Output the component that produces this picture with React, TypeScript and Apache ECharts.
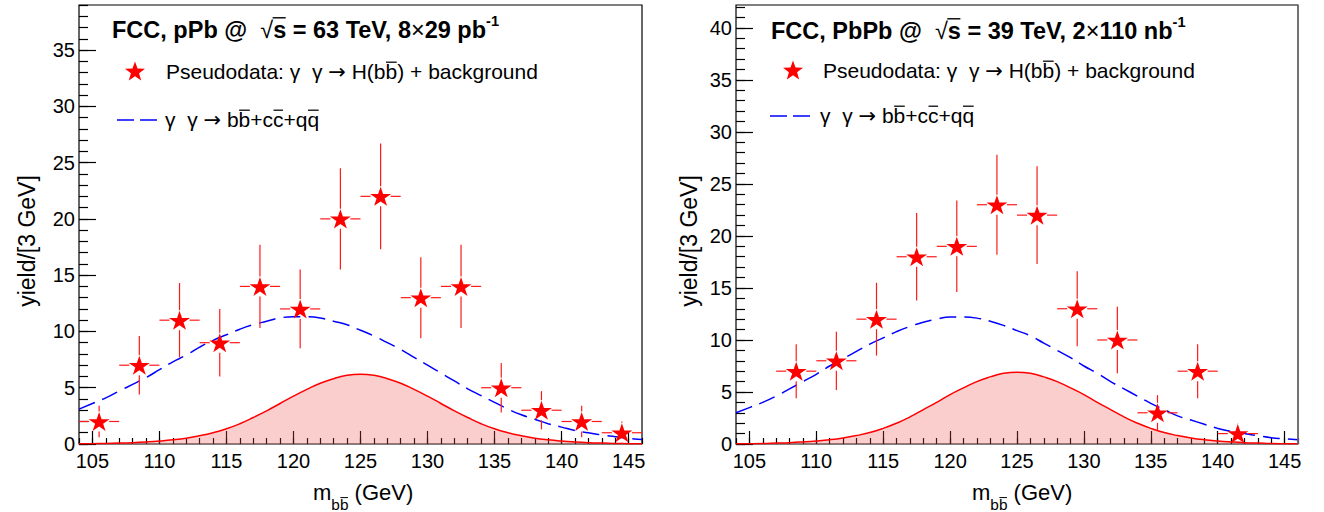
import React, { useEffect, useRef } from "react";
import * as echarts from "echarts";

const FONT = "'Liberation Sans', Arial, Helvetica, sans-serif";
const ARROW_FONT = "'DejaVu Sans', 'Liberation Sans', sans-serif";

// ---------- data ----------
const massGrid = [104, 105, 106, 107, 108, 109, 110, 111, 112, 113, 114, 115, 116, 117, 118, 119, 120, 121, 122, 123, 124, 125, 126, 127, 128, 129, 130, 131, 132, 133, 134, 135, 136, 137, 138, 139, 140, 141, 142, 143, 144, 145, 146];

const pPbBackground = [3.1, 3.6, 4.1, 4.7, 5.3, 5.9, 6.6, 7.3, 7.9, 8.6, 9.2, 9.7, 10.2, 10.6, 10.9, 11.2, 11.3, 11.3, 11.2, 10.9, 10.6, 10.1, 9.6, 9.0, 8.4, 7.7, 7.0, 6.3, 5.6, 4.9, 4.3, 3.7, 3.1, 2.6, 2.2, 1.8, 1.5, 1.2, 1.0, 0.8, 0.65, 0.5, 0.4];
const pPbSignal = [0.02, 0.03, 0.05, 0.08, 0.12, 0.18, 0.26, 0.37, 0.52, 0.73, 1.0, 1.35, 1.8, 2.35, 2.95, 3.6, 4.25, 4.85, 5.4, 5.8, 6.1, 6.2, 6.1, 5.8, 5.4, 4.85, 4.25, 3.6, 2.95, 2.35, 1.8, 1.35, 1.0, 0.73, 0.52, 0.37, 0.26, 0.18, 0.12, 0.08, 0.05, 0.03, 0.02];

const PbPbBackground = [3.0, 3.5, 4.0, 4.6, 5.3, 6.0, 6.7, 7.5, 8.2, 8.9, 9.6, 10.2, 10.8, 11.3, 11.7, 12.0, 12.2, 12.2, 12.1, 11.8, 11.4, 10.9, 10.4, 9.7, 9.0, 8.3, 7.5, 6.8, 6.0, 5.3, 4.6, 3.9, 3.3, 2.7, 2.3, 1.9, 1.5, 1.2, 1.0, 0.8, 0.6, 0.5, 0.4];
const PbPbSignal = [0.02, 0.03, 0.05, 0.09, 0.13, 0.2, 0.29, 0.41, 0.58, 0.81, 1.1, 1.5, 2.0, 2.6, 3.3, 4.0, 4.75, 5.4, 6.0, 6.45, 6.8, 6.9, 6.8, 6.45, 6.0, 5.4, 4.75, 4.0, 3.3, 2.6, 2.0, 1.5, 1.1, 0.81, 0.58, 0.41, 0.29, 0.2, 0.13, 0.09, 0.05, 0.03, 0.02];

const pPbBinCenters = [105.5, 108.5, 111.5, 114.5, 117.5, 120.5, 123.5, 126.5, 129.5, 132.5, 135.5, 138.5, 141.5, 144.5];
const pPbYield = [2, 7, 11, 9, 14, 12, 20, 22, 13, 14, 5, 3, 2, 1];
const pPbYieldErr = [1.4, 2.6, 3.3, 3.0, 3.7, 3.5, 4.5, 4.7, 3.6, 3.7, 2.2, 1.7, 1.4, 1.0];

const PbPbBinCenters = [108.5, 111.5, 114.5, 117.5, 120.5, 123.5, 126.5, 129.5, 132.5, 135.5, 138.5, 141.5];
const PbPbYield = [7, 8, 12, 18, 19, 23, 22, 13, 10, 3, 7, 1];
const PbPbYieldErr = [2.6, 2.8, 3.5, 4.2, 4.4, 4.8, 4.7, 3.6, 3.2, 1.7, 2.6, 1.0];

const binHalfWidth = 1.5;

const xTickLabels = [105, 110, 115, 120, 125, 130, 135, 140, 145];
const pPbYTickLabels = [0, 5, 10, 15, 20, 25, 30, 35];
const PbPbYTickLabels = [0, 5, 10, 15, 20, 25, 30, 35, 40];

const STAR = "path://M50,0 L61.8,36.2 L100,36.2 L69.1,58.8 L80.9,95.1 L50,72.7 L19.1,95.1 L30.9,58.8 L0,36.2 L38.2,36.2 Z";

type Seg = { t: string; rel?: number; bold?: boolean; dy?: number; bar?: boolean; barLevel?: number; barPre?: number; fam?: string };

function richLine(ctx: CanvasRenderingContext2D, segs: Seg[], x0: number, baseline: number, size: number, color = "#000"): any[] {
  const els: any[] = [];
  let x = x0;
  for (const s of segs) {
    const sz = size * (s.rel ?? 1);
    const font = `${s.bold ? "bold " : ""}${sz}px ${s.fam ?? FONT}`;
    ctx.font = font;
    const w = ctx.measureText(s.t).width;
    const bl = baseline + (s.dy ?? 0) * size;
    els.push({
      type: "text", x, y: bl - 0.35 * sz, silent: true,
      style: { text: s.t, font, fill: color, align: "left", verticalAlign: "middle", textAlign: "left", textVerticalAlign: "middle" },
    });
    if (s.bar) {
      const by = bl - (s.barLevel ?? 0.8) * sz;
      els.push({
        type: "line", silent: true,
        shape: { x1: x + 0.5 - (s.barPre ?? 0), y1: by, x2: x + w - 0.5, y2: by },
        style: { stroke: color, lineWidth: Math.max(1, sz * 0.06) },
      });
    }
    x += w;
  }
  return els;
}

function starPoints(cx: number, cy: number, R: number, r: number): number[][] {
  const pts: number[][] = [];
  for (let k = 0; k < 10; k++) {
    const a = -Math.PI / 2 + (k * Math.PI) / 5;
    const rad = k % 2 === 0 ? R : r;
    pts.push([cx + rad * Math.cos(a), cy + rad * Math.sin(a)]);
  }
  return pts;
}

export default function App() {
  const ref = useRef<HTMLDivElement>(null);
  useEffect(() => {
    if (!ref.current) return;
    const chart = echarts.init(ref.current, undefined, { renderer: "svg" });
    const canvas = document.createElement("canvas");
    const ctx = canvas.getContext("2d") as CanvasRenderingContext2D;

    const xMinor: number[] = [];
    for (let v = 104; v <= 146; v++) xMinor.push(v);

    const panels = [
      {
        grid: { left: 79, top: 5, width: 563, height: 439 },
        ymax: 39, yTicks: pPbYTickLabels,
        centers: pPbBinCenters, yields: pPbYield, errs: pPbYieldErr,
        bkg: pPbBackground, sig: pPbSignal,
      },
      {
        grid: { left: 736, top: 5, width: 562, height: 439 },
        ymax: 42.2, yTicks: PbPbYTickLabels,
        centers: PbPbBinCenters, yields: PbPbYield, errs: PbPbYieldErr,
        bkg: PbPbBackground, sig: PbPbSignal,
      },
    ];

    const tickLine = { color: "#000", width: 1.2 };
    const labelStyle = { fontSize: 20, fontFamily: FONT, color: "#000" };

    const xAxis: any[] = [];
    const yAxis: any[] = [];
    panels.forEach((p, i) => {
      const yMinor: number[] = [];
      for (let v = 0; v <= Math.floor(p.ymax); v++) yMinor.push(v);
      xAxis.push(
        {
          type: "value", gridIndex: i, position: "bottom", min: 104, max: 146,
          axisLine: { show: false, onZero: false }, splitLine: { show: false },
          axisTick: { show: true, inside: true, length: 13, customValues: xTickLabels, lineStyle: tickLine },
          axisLabel: { show: true, customValues: xTickLabels, margin: 7, ...labelStyle },
        },
        {
          type: "value", gridIndex: i, position: "bottom", min: 104, max: 146,
          axisLine: { show: false, onZero: false }, splitLine: { show: false },
          axisTick: { show: true, inside: true, length: 6, customValues: xMinor, lineStyle: tickLine },
          axisLabel: { show: false },
        }
      );
      yAxis.push(
        {
          type: "value", gridIndex: i, position: "left", min: 0, max: p.ymax,
          axisLine: { show: false, onZero: false }, splitLine: { show: false },
          axisTick: { show: true, inside: true, length: 17, customValues: p.yTicks, lineStyle: tickLine },
          axisLabel: { show: true, customValues: p.yTicks, margin: 4, ...labelStyle },
        },
        {
          type: "value", gridIndex: i, position: "left", min: 0, max: p.ymax,
          axisLine: { show: false, onZero: false }, splitLine: { show: false },
          axisTick: { show: true, inside: true, length: 9, customValues: yMinor, lineStyle: tickLine },
          axisLabel: { show: false },
        }
      );
    });

    const series: any[] = [];
    panels.forEach((p, i) => {
      const xi = 2 * i, yi = 2 * i;
      series.push({
        type: "line", xAxisIndex: xi, yAxisIndex: yi, smooth: true, showSymbol: false, z: 2,
        data: massGrid.map((m, k) => [m, p.sig[k]]),
        lineStyle: { color: "#ff0000", width: 1.5 },
        areaStyle: { color: "rgba(242,80,80,0.4)" },
      });
      series.push({
        type: "line", xAxisIndex: xi, yAxisIndex: yi, smooth: true, showSymbol: false, z: 3,
        data: massGrid.map((m, k) => [m, p.bkg[k]]),
        lineStyle: { color: "#0000ff", width: 1.5, type: [17, 8] },
      });
      series.push({
        type: "custom", xAxisIndex: xi, yAxisIndex: yi, z: 4,
        dimensions: ["x", "y", "ex", "ey"],
        encode: { x: 0, y: 1 },
        data: p.centers.map((c, k) => [c, p.yields[k], binHalfWidth, p.errs[k]]),
        renderItem: (params: any, api: any) => {
          const x = api.value(0), y = api.value(1), ex = api.value(2), ey = api.value(3);
          const c = api.coord([x, y]);
          const l = api.coord([x - ex, y]);
          const r = api.coord([x + ex, y]);
          const t = api.coord([x, y + ey]);
          const b = api.coord([x, Math.max(0, y - ey)]);
          const g = 10;
          const st = { stroke: "#ff1a1a", lineWidth: 1.2 };
          const ch: any[] = [];
          if (c[0] - g > l[0]) ch.push({ type: "line", shape: { x1: l[0], y1: c[1], x2: c[0] - g, y2: c[1] }, style: st });
          if (r[0] > c[0] + g) ch.push({ type: "line", shape: { x1: c[0] + g, y1: c[1], x2: r[0], y2: c[1] }, style: st });
          if (c[1] - g > t[1]) ch.push({ type: "line", shape: { x1: c[0], y1: t[1], x2: c[0], y2: c[1] - g }, style: st });
          if (b[1] > c[1] + g) ch.push({ type: "line", shape: { x1: c[0], y1: c[1] + g, x2: c[0], y2: b[1] }, style: st });
          return { type: "group", children: ch };
        },
      });
      series.push({
        type: "scatter", xAxisIndex: xi, yAxisIndex: yi, z: 5,
        symbol: STAR, symbolSize: [21, 20], symbolKeepAspect: true,
        itemStyle: { color: "#ff0000", opacity: 1 },
        data: p.centers.map((c, k) => [c, p.yields[k]]),
      });
    });

    const T = 23.5, L = 21, A = 22;
    const legend1 = (): Seg[] => [
      { t: "Pseudodata: \u03B3  \u03B3 " }, { t: "\u2192", fam: ARROW_FONT }, { t: " H(b" }, { t: "b", bar: true }, { t: ") + background" },
    ];
    const legend2 = (): Seg[] => [
      { t: "\u03B3  \u03B3 " }, { t: "\u2192", fam: ARROW_FONT }, { t: " b" }, { t: "b", bar: true }, { t: "+c" }, { t: "c", bar: true }, { t: "+q" }, { t: "q", bar: true },
    ];
    const graphic: any[] = [
      ...richLine(ctx, [
        { t: "FCC, pPb @  ", bold: true },
        { t: "\u221A" },
        { t: "s", bold: true, bar: true, barLevel: 0.86, barPre: 1 },
        { t: " = 63 TeV, 8", bold: true },
        { t: "\u00D7" },
        { t: "29 pb", bold: true },
        { t: "-1", bold: true, rel: 0.62, dy: -0.5 },
      ], 112, 38, T),
      ...richLine(ctx, [
        { t: "FCC, PbPb @  ", bold: true },
        { t: "\u221A" },
        { t: "s", bold: true, bar: true, barLevel: 0.86, barPre: 1 },
        { t: " = 39 TeV, 2", bold: true },
        { t: "\u00D7" },
        { t: "110 nb", bold: true },
        { t: "-1", bold: true, rel: 0.62, dy: -0.5 },
      ], 771, 39, T),
      ...richLine(ctx, legend1(), 166, 79, L),
      ...richLine(ctx, legend1(), 823, 78, L),
      ...richLine(ctx, legend2(), 165, 127, L),
      ...richLine(ctx, legend2(), 820, 123, L),
      ...richLine(ctx, [
        { t: "m" }, { t: "b", rel: 0.7, dy: 0.45 }, { t: "b", rel: 0.7, dy: 0.45, bar: true }, { t: " (GeV)" },
      ], 313, 500, A),
      ...richLine(ctx, [
        { t: "m" }, { t: "b", rel: 0.7, dy: 0.45 }, { t: "b", rel: 0.7, dy: 0.45, bar: true }, { t: " (GeV)" },
      ], 972, 500, A),
      { type: "polygon", silent: true, shape: { points: starPoints(135, 72, 10.5, 4.3) }, style: { fill: "#ff0000" } },
      { type: "polygon", silent: true, shape: { points: starPoints(793, 71, 10.5, 4.3) }, style: { fill: "#ff0000" } },
      { type: "line", silent: true, shape: { x1: 117, y1: 120, x2: 157, y2: 120 }, style: { stroke: "#0000ff", lineWidth: 1.5, lineDash: [17, 6] } },
      { type: "line", silent: true, shape: { x1: 770, y1: 116, x2: 810, y2: 116 }, style: { stroke: "#0000ff", lineWidth: 1.5, lineDash: [17, 6] } },
      {
        type: "text", x: 27, y: 241, rotation: Math.PI / 2, silent: true,
        style: { text: "yield/[3 GeV]", font: `23px ${FONT}`, fill: "#000", align: "center", verticalAlign: "middle", textAlign: "center", textVerticalAlign: "middle" },
      },
      {
        type: "text", x: 689, y: 241, rotation: Math.PI / 2, silent: true,
        style: { text: "yield/[3 GeV]", font: `23px ${FONT}`, fill: "#000", align: "center", verticalAlign: "middle", textAlign: "center", textVerticalAlign: "middle" },
      },
      { type: "line", silent: true, z: 100, shape: { x1: 1298, y1: 5, x2: 1298, y2: 444 }, style: { stroke: "#777", lineWidth: 1.5 } },
    ];

    chart.setOption({
      animation: false,
      backgroundColor: "#fff",
      grid: panels.map((p) => ({ ...p.grid, show: true, borderColor: "#000", borderWidth: 1.2, backgroundColor: "transparent", containLabel: false })),
      xAxis,
      yAxis,
      series,
      graphic,
    });
    return () => chart.dispose();
  }, []);
  return <div ref={ref} style={{ position: "fixed", left: 0, top: 0, width: 1324, height: 512, background: "#fff" }} />;
}
